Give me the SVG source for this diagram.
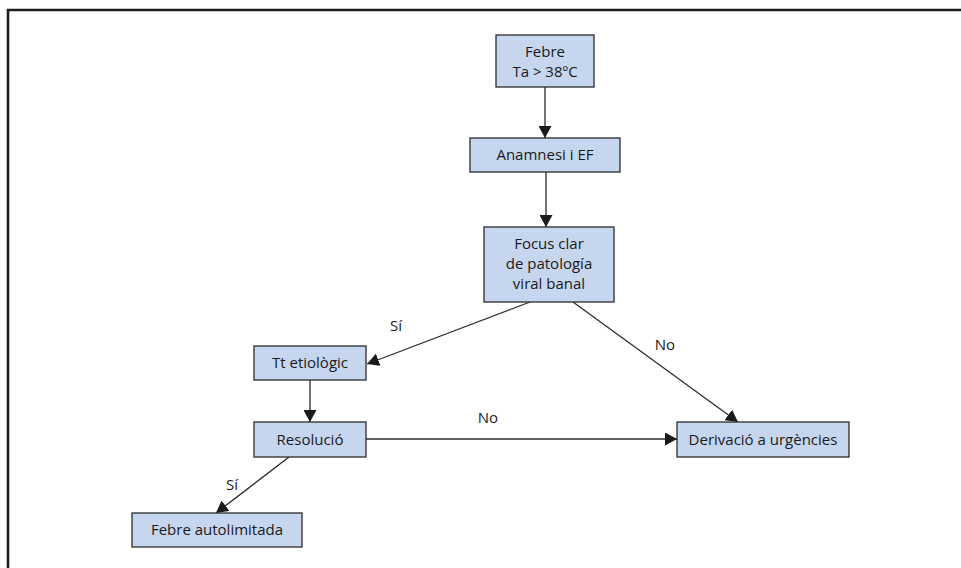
<svg xmlns="http://www.w3.org/2000/svg" width="961" height="568" viewBox="0 0 961 568">
  <style>
    .box { fill: #c6d6ee; stroke: #2b2b2b; stroke-width: 1.3; }
    .lbl { font-family: "Open Sans", "Liberation Sans", sans-serif; font-size: 15px; fill: #1a1a1a; text-anchor: middle; }
    .edge { stroke: #2b2b2b; stroke-width: 1.3; fill: none; marker-end: url(#arrow); }
  </style>
  <defs>
    <marker id="arrow" viewBox="0 0 12 13" refX="12" refY="6.5" markerWidth="12" markerHeight="13" markerUnits="userSpaceOnUse" orient="auto">
      <path d="M0,0 L12,6.5 L0,13 Z" fill="#1a1a1a"/>
    </marker>
  </defs>
  <rect width="961" height="568" fill="#ffffff"/>
  <!-- frame -->
  <polyline points="8,568 8,10 961,10" fill="none" stroke="#1e1e1e" stroke-width="2.6"/>

  <g id="connectors">
    <line class="edge" x1="545" y1="87" x2="545" y2="138"/>
    <line class="edge" x1="546" y1="172" x2="546" y2="227"/>
    <line class="edge" x1="530" y1="302" x2="367" y2="364"/>
    <line class="edge" x1="573" y1="302" x2="738" y2="422"/>
    <line class="edge" x1="310" y1="380" x2="310" y2="422"/>
    <line class="edge" x1="366" y1="439" x2="677" y2="439"/>
    <line class="edge" x1="289" y1="457" x2="216" y2="513"/>
    <text class="lbl" x="396" y="331">Sí</text>
    <text class="lbl" x="665" y="350">No</text>
    <text class="lbl" x="488" y="423">No</text>
    <text class="lbl" x="232" y="490">Sí</text>
  </g>

  <g id="febre">
    <rect class="box" x="496" y="35" width="98" height="52"/>
    <text class="lbl" x="545" y="57">Febre</text>
    <text class="lbl" x="545" y="77">Ta &gt; 38ºC</text>
  </g>
  <g id="anamnesi">
    <rect class="box" x="470" y="138" width="150" height="34"/>
    <text class="lbl" x="545" y="160">Anamnesi i EF</text>
  </g>
  <g id="focus">
    <rect class="box" x="484" y="227" width="130" height="75"/>
    <text class="lbl" x="549" y="249">Focus clar</text>
    <text class="lbl" x="549" y="269">de patología</text>
    <text class="lbl" x="549" y="289">viral banal</text>
  </g>
  <g id="tt-etiologic">
    <rect class="box" x="254" y="346" width="112" height="34"/>
    <text class="lbl" x="310" y="368">Tt etiològic</text>
  </g>
  <g id="resolucio">
    <rect class="box" x="254" y="422" width="112" height="35"/>
    <text class="lbl" x="310" y="445">Resolució</text>
  </g>
  <g id="febre-autolimitada">
    <rect class="box" x="132" y="513" width="170" height="34"/>
    <text class="lbl" x="217" y="535">Febre autolimitada</text>
  </g>
  <g id="derivacio">
    <rect class="box" x="677" y="422" width="172" height="35"/>
    <text class="lbl" x="763" y="445">Derivació a urgències</text>
  </g>
</svg>
